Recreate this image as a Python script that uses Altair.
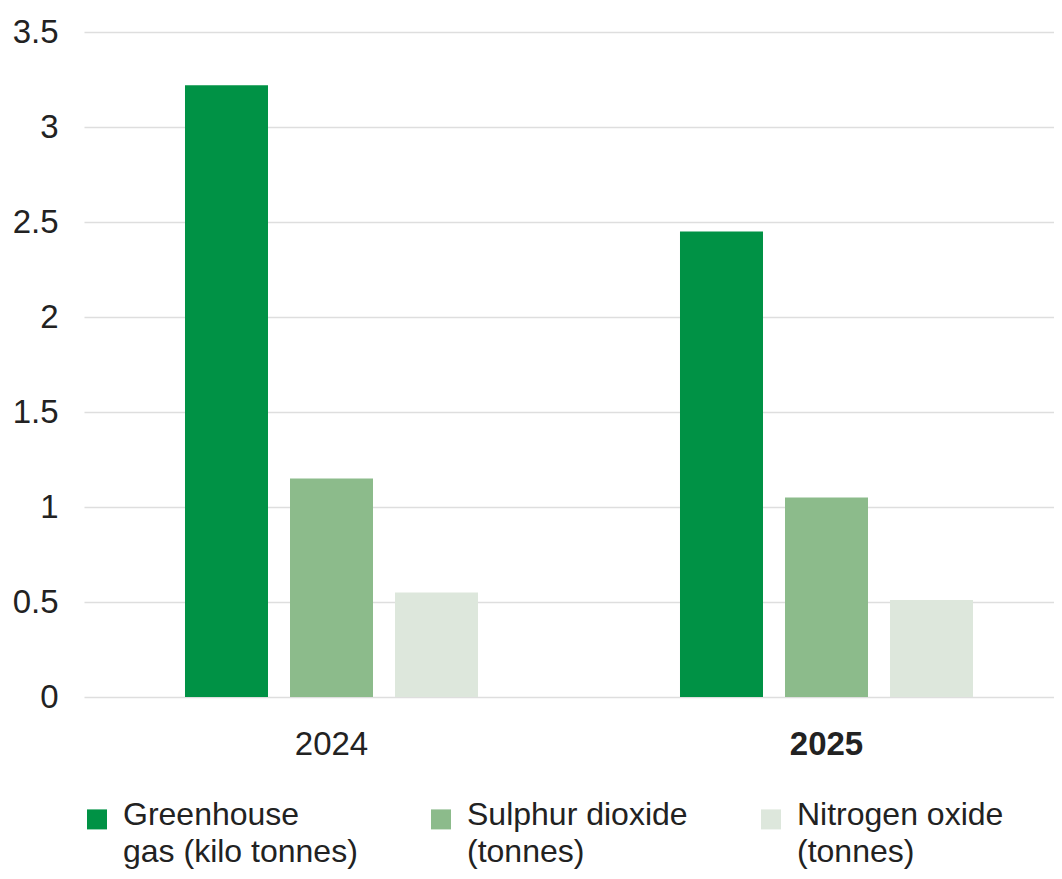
import altair as alt
import pandas as pd

years = ["2024", "2025"]
series = ["Greenhouse gas (kilo tonnes)", "Sulphur dioxide (tonnes)", "Nitrogen oxide (tonnes)"]
greenhouse = [3.22, 2.45]
sulphur = [1.15, 1.05]
nitrogen = [0.55, 0.51]
colors = ["#009245", "#8cbb8b", "#dde7dc"]
y_ticks = [0, 0.5, 1, 1.5, 2, 2.5, 3, 3.5]

rows = []
for i, yr in enumerate(years):
    for s, vals in zip(series, [greenhouse, sulphur, nitrogen]):
        rows.append({"year": yr, "series": s, "value": vals[i]})
df = pd.DataFrame(rows)

FONT = "Liberation Sans"
TXT = "#222222"

label_expr = (
    "datum.label == 'Greenhouse gas (kilo tonnes)' ? ['Greenhouse', 'gas (kilo tonnes)'] : "
    "datum.label == 'Sulphur dioxide (tonnes)' ? ['Sulphur dioxide', '(tonnes)'] : "
    "['Nitrogen oxide', '(tonnes)']"
)

# square legend swatch drawn slightly below the entry centre so it sits beside the first label line
SWATCH = "M-1,0.94H1V2.94H-1Z"

chart = alt.Chart(df).mark_bar().encode(
    x=alt.X(
        "year:N",
        sort=years,
        title=None,
        scale=alt.Scale(paddingInner=0.3636, paddingOuter=0.1616, align=0.5625),
        axis=alt.Axis(
            labelAngle=0,
            labelFontSize=33,
            labelFont=FONT,
            labelColor=TXT,
            labelPadding=31,
            ticks=False,
            tickSize=0,
            domain=False,
            grid=False,
            labelFontWeight={"condition": {"test": "datum.value == '2025'", "value": "bold"}, "value": "normal"},
        ),
    ),
    xOffset=alt.XOffset(
        "series:N",
        sort=series,
        scale=alt.Scale(paddingInner=0.2095, paddingOuter=0.1048),
    ),
    y=alt.Y(
        "value:Q",
        title=None,
        scale=alt.Scale(domain=[0, 3.5], nice=False),
        axis=alt.Axis(
            values=y_ticks,
            format=".1~f",
            labelFontSize=33,
            labelFont=FONT,
            labelColor=TXT,
            labelPadding=26,
            ticks=False,
            tickSize=0,
            domain=False,
            grid=True,
            gridColor="#dedede",
            gridWidth=1.6,
        ),
    ),
    color=alt.Color(
        "series:N",
        sort=series,
        scale=alt.Scale(domain=series, range=colors),
        legend=alt.Legend(
            title=None,
            orient="none",
            legendX=-3,
            legendY=752,
            direction="horizontal",
            columns=3,
            columnPadding=67,
            padding=0,
            symbolType=SWATCH,
            symbolSize=400,
            symbolStrokeWidth=0,
            labelFontSize=32,
            labelFont=FONT,
            labelColor=TXT,
            labelOffset=10,
            labelLimit=400,
            labelBaseline="top",
            labelExpr=label_expr,
        ),
    ),
).properties(
    width=970,
    height=665,
    autosize=alt.AutoSizeParams(type="none"),
    padding={"left": 76, "top": 24, "right": 0, "bottom": 174},
).configure(
    view={"stroke": None},
    style={"guide-label": {"lineHeight": 37}},
)

chart.save("out.html", embed_options={"renderer": "svg", "actions": False})
